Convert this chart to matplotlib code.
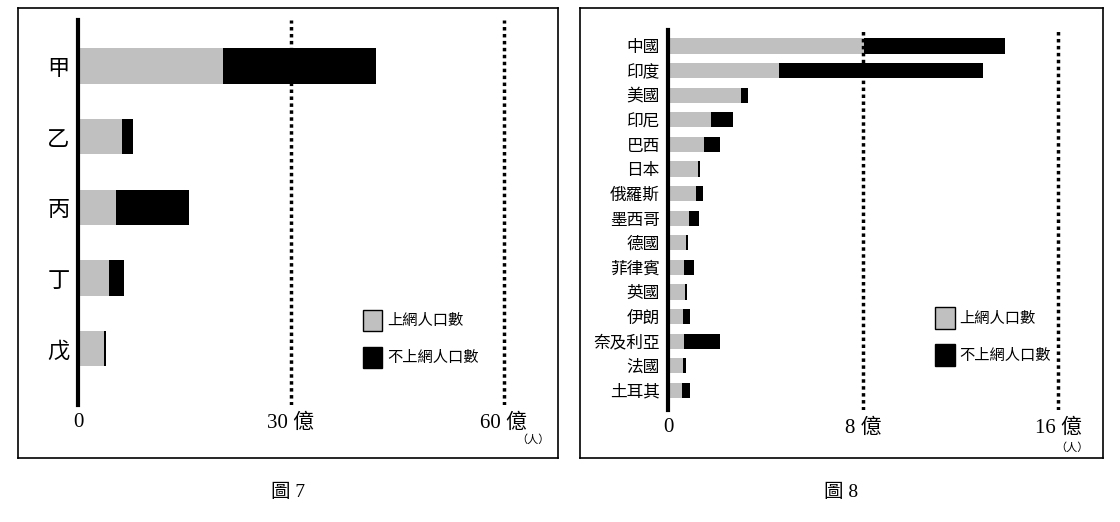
import matplotlib
matplotlib.use("Agg")
import matplotlib.pyplot as plt
from matplotlib.patches import Patch, Rectangle

plt.rcParams['font.family'] = ['Noto Sans CJK TC', 'DejaVu Sans']
SERIF = ['Liberation Serif', 'Noto Sans CJK TC']

cats7 = ['甲', '乙', '丙', '丁', '戊']
online7 = [20.4, 6.2, 5.4, 4.4, 3.7]
total7 = [42.0, 7.7, 15.6, 6.5, 3.9]

cats8 = ['中國', '印度', '美國', '印尼', '巴西', '日本', '俄羅斯', '墨西哥', '德國',
         '菲律賓', '英國', '伊朗', '奈及利亞', '法國', '土耳其']
online8 = [8.03, 4.55, 3.0, 1.76, 1.48, 1.23, 1.15, 0.86, 0.74, 0.66, 0.70, 0.62, 0.66, 0.62, 0.57]
total8 = [13.8, 12.9, 3.28, 2.66, 2.13, 1.31, 1.43, 1.27, 0.82, 1.07, 0.78, 0.90, 2.13, 0.74, 0.90]

W, H = 1120, 522
fig = plt.figure(figsize=(W/100, H/100), dpi=100)

def px(x0, y0, x1, y1):
    return [x0/W, 1 - y1/H, (x1-x0)/W, (y1-y0)/H]

# frames
for box in [(18, 8, 558, 458), (580, 8, 1103, 458)]:
    fr = fig.add_axes(px(*box))
    fr.set_xticks([]); fr.set_yticks([])
    for s in fr.spines.values():
        s.set_linewidth(1.2)
    fr.patch.set_alpha(0)

GRAY = '#c0c0c0'

def panel(rect, cats, online, total, xmax, ticks, ticklabels, bh, lw_fs, legpos, renpos):
    ax = fig.add_axes(px(*rect))
    n = len(cats)
    y = list(range(n))
    rest = [t - o for t, o in zip(total, online)]
    ax.barh(y, online, height=bh, color=GRAY, label='上網人口數')
    ax.barh(y, rest, left=online, height=bh, color='black', label='不上網人口數')
    for t in ticks[1:]:
        ax.axvline(t, color='black', ls=(0, (1, 1)), lw=2.5, ymin=0, ymax=1)
    ax.set_xlim(0, xmax)
    ax.set_ylim(n - 0.5 + 0.3, -0.5 - 0.15)
    for s in ['top', 'right', 'bottom']:
        ax.spines[s].set_visible(False)
    ax.spines['left'].set_linewidth(3)
    ax.set_yticks(y)
    ax.set_yticklabels(cats, fontsize=lw_fs)
    ax.tick_params(axis='y', length=0, pad=6)
    ax.set_xticks(ticks)
    ax.set_xticklabels(ticklabels, fontsize=15, family=SERIF)
    ax.tick_params(axis='x', length=0, pad=6)
    ax.patch.set_alpha(0)
    handles = [Patch(facecolor=GRAY, edgecolor='black'), Patch(facecolor='black', edgecolor='black')]
    ax.legend(handles, ['上網人口數', '不上網人口數'], loc='lower left',
              bbox_to_anchor=legpos, frameon=False, fontsize=11,
              handlelength=1.3, handleheight=1.8, labelspacing=1.0, handletextpad=0.3)
    fig.text(renpos[0]/W, 1 - renpos[1]/H, '（人）', fontsize=8, ha='center', va='center')
    return ax

panel((78, 20, 545, 405), cats7, online7, total7, 65.8, [0, 30, 60], ['0', '30 億', '60 億'],
      0.5, 16, (0.58, 0.06), (533, 440))
panel((668, 30, 1090, 410), cats8, online8, total8, 17.3, [0, 8, 16], ['0', '8 億', '16 億'],
      0.62, 12, (0.6, 0.08), (1072, 448))

fig.text(288/W, 1 - 492/H, '圖 7', fontsize=14, ha='center', va='center', family=SERIF)
fig.text(841/W, 1 - 492/H, '圖 8', fontsize=14, ha='center', va='center', family=SERIF)

fig.savefig('out.png', dpi=100)
